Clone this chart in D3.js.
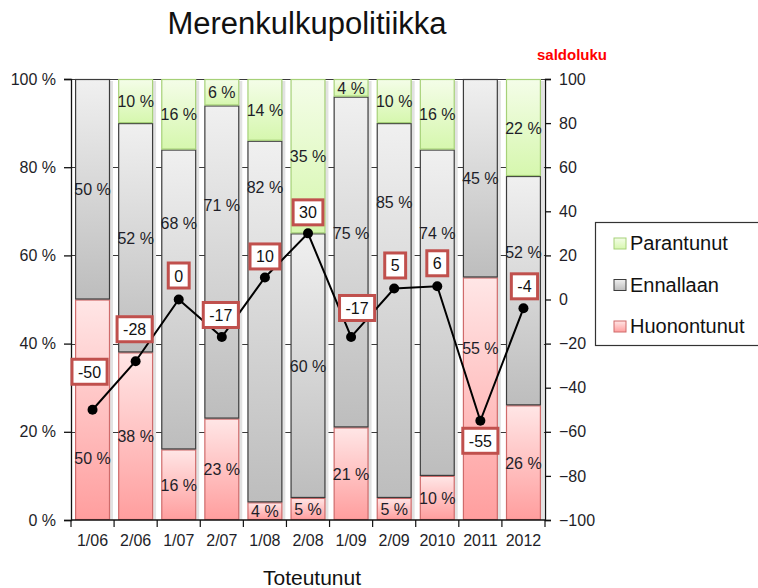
<!DOCTYPE html>
<html>
<head>
<meta charset="utf-8">
<script src="https://cdn.jsdelivr.net/npm/d3@7"></script>
<style>
  body { margin: 0; background: #fff; }
  svg { font-family: "Liberation Sans", Arial, sans-serif; }
</style>
</head>
<body>
<div class="chart"></div>
<script>
// data
const categories = ["1/06", "2/06", "1/07", "2/07", "1/08", "2/08", "1/09", "2/09", "2010", "2011", "2012"];
const parantunut = [0, 10, 16, 6, 14, 35, 4, 10, 16, 0, 22];
const ennallaan = [50, 52, 68, 71, 82, 60, 75, 85, 74, 45, 52];
const huonontunut = [50, 38, 16, 23, 4, 5, 21, 5, 10, 55, 26];
const saldoluku = [-50, -28, 0, -17, 10, 30, -17, 5, 6, -55, -4];
const leftTicks = [0, 20, 40, 60, 80, 100];
const rightTicks = [-100, -80, -60, -40, -20, 0, 20, 40, 60, 80, 100];

// label placement (percent on the left scale) where the original moved them
const ennallaanLabelAt = [75, 64, 67.3, 71.4, 75.5, 35, 65, 72, 65, 77.5, 60.7];
const huonontunutLabelAt = [14, 19, 8, 11.5, 2, 2.5, 10.5, 2.5, 5, 39, 13];
// saldo label box shift from the point, px
const saldoShift = [[-3, -38], [-1, -32], [0, -24], [-1, -22], [0, -21], [0, -21], [6, -29], [1, -23], [0, -23], [0, 20], [1, -22]];

const W = 758, H = 588;
const M = {top: 79, left: 71, right: 213, bottom: 68};

const svg = d3.select(".chart").append("svg")
  .attr("width", W).attr("height", H);

const x = d3.scaleBand()
  .domain(categories)
  .range([M.left, W - M.right])
  .paddingInner(0.19)
  .paddingOuter(0.095);

const y = d3.scaleLinear().domain([0, 100]).range([H - M.bottom, M.top]);
const y2 = d3.scaleLinear().domain([-100, 100]).range([H - M.bottom, M.top]);

// gradients
const defs = svg.append("defs");
const grads = [
  {id: "gPink", top: "#ffe6e6", bottom: "#ff9e9e"},
  {id: "gGrey", top: "#f0f0f0", bottom: "#bdbdbd"},
  {id: "gGreen", top: "#f4fde8", bottom: "#d6f7ae"}
];
grads.forEach(g => {
  const lg = defs.append("linearGradient").attr("id", g.id)
    .attr("x1", 0).attr("y1", 0).attr("x2", 0).attr("y2", 1);
  lg.append("stop").attr("offset", "0%").attr("stop-color", g.top);
  lg.append("stop").attr("offset", "100%").attr("stop-color", g.bottom);
});

// title
svg.append("text")
  .attr("x", 307).attr("y", 34)
  .attr("text-anchor", "middle")
  .style("font-size", "31px")
  .attr("fill", "#111")
  .text("Merenkulkupolitiikka");

// gridlines
svg.append("g")
  .selectAll("line")
  .data(leftTicks.slice(1))
  .join("line")
    .attr("x1", M.left).attr("x2", W - M.right)
    .attr("y1", d => Math.round(y(d)) + 0.5).attr("y2", d => Math.round(y(d)) + 0.5)
    .attr("stroke", "#3a3a3a").attr("stroke-width", 1);

// bar shadows
svg.append("g")
  .selectAll("rect")
  .data(categories)
  .join("rect")
    .attr("x", d => x(d) + 3)
    .attr("y", y(100) + 2)
    .attr("width", x.bandwidth())
    .attr("height", y(0) - y(100) - 2)
    .attr("fill", "#e2e2e2");

// stacked bars
const series = [
  {name: "Huonontunut", values: huonontunut, fill: "url(#gPink)", stroke: "#cf6b6b", labelAt: huonontunutLabelAt},
  {name: "Ennallaan", values: ennallaan, fill: "url(#gGrey)", stroke: "#3c3c3c", labelAt: ennallaanLabelAt},
  {name: "Parantunut", values: parantunut, fill: "url(#gGreen)", stroke: "#a6d178", labelAt: null}
];

const segs = [];
categories.forEach((c, i) => {
  let base = 0;
  series.forEach(s => {
    const v = s.values[i];
    segs.push({cat: c, s, v, y0: base, y1: base + v,
      lab: s.labelAt ? s.labelAt[i] : base + v / 2});
    base += v;
  });
});

svg.append("g")
  .selectAll("rect")
  .data(segs.filter(d => d.v > 0))
  .join("rect")
    .attr("x", d => x(d.cat) + 0.5)
    .attr("y", d => y(d.y1) + 0.5)
    .attr("width", x.bandwidth() - 1)
    .attr("height", d => y(d.y0) - y(d.y1) - 1)
    .attr("fill", d => d.s.fill)
    .attr("stroke", d => d.s.stroke)
    .attr("stroke-width", 1.2);

svg.append("g")
  .selectAll("text")
  .data(segs.filter(d => d.v > 0))
  .join("text")
    .attr("x", d => x(d.cat) + x.bandwidth() / 2)
    .attr("y", d => y(d.lab) + 6)
    .attr("text-anchor", "middle")
    .style("font-size", "16px")
    .attr("fill", "#1e1e28")
    .text(d => `${d.v} %`);

// axes
const xAxisG = svg.append("g").attr("transform", `translate(0,${y(0)})`);
xAxisG.append("line")
  .attr("x1", M.left).attr("x2", W - M.right)
  .attr("stroke", "#111").attr("stroke-width", 1.5);
xAxisG.selectAll("line.tk")
  .data(d3.range(categories.length + 1))
  .join("line").attr("class", "tk")
    .attr("x1", i => M.left + i * x.step()).attr("x2", i => M.left + i * x.step())
    .attr("y1", 0).attr("y2", 7)
    .attr("stroke", "#111").attr("stroke-width", 1.2);
xAxisG.selectAll("text")
  .data(categories)
  .join("text")
    .attr("x", d => x(d) + x.bandwidth() / 2)
    .attr("y", 26)
    .attr("text-anchor", "middle")
    .style("font-size", "16px")
    .attr("fill", "#1e1e28")
    .text(d => d);

const yAxisL = d3.axisLeft(y).tickValues(leftTicks).tickSize(7).tickPadding(8)
  .tickFormat(d => `${d} %`);
svg.append("g")
  .attr("transform", `translate(${M.left},0)`)
  .call(yAxisL)
  .call(g => g.selectAll("path, line").attr("stroke", "#111").attr("stroke-width", 1.3))
  .call(g => g.selectAll("text").style("font-size", "16px").attr("fill", "#1e1e28")
    .style("font-family", "Liberation Sans, Arial, sans-serif"));

const yAxisR = d3.axisRight(y2).tickValues(rightTicks).tickSize(6).tickPadding(8);
svg.append("g")
  .attr("transform", `translate(${W - M.right},0)`)
  .call(yAxisR)
  .call(g => g.selectAll("path, line").attr("stroke", "#111").attr("stroke-width", 1.3))
  .call(g => g.selectAll("text").style("font-size", "16px").attr("fill", "#1e1e28")
    .style("font-family", "Liberation Sans, Arial, sans-serif"));

svg.append("text")
  .attr("x", 572).attr("y", 60)
  .attr("text-anchor", "middle")
  .style("font-size", "15px").style("font-weight", "bold")
  .attr("fill", "#ff0000")
  .text("saldoluku");

// saldo line
const cx = i => x(categories[i]) + x.bandwidth() / 2;
svg.append("path")
  .datum(saldoluku)
  .attr("d", d3.line().x((d, i) => cx(i)).y(d => y2(d)))
  .attr("fill", "none")
  .attr("stroke", "#000")
  .attr("stroke-width", 2);

svg.append("g")
  .selectAll("circle")
  .data(saldoluku)
  .join("circle")
    .attr("cx", (d, i) => cx(i))
    .attr("cy", d => y2(d))
    .attr("r", 5)
    .attr("fill", "#000");

const labs = svg.append("g")
  .selectAll("g")
  .data(saldoluku)
  .join("g")
    .attr("transform", (d, i) => `translate(${cx(i) + saldoShift[i][0]},${y2(d) + saldoShift[i][1]})`);
labs.append("rect").attr("class", "bx");
labs.append("text")
  .attr("text-anchor", "middle")
  .attr("y", 6)
  .style("font-size", "16px")
  .attr("fill", "#111")
  .text(d => d);
labs.each(function () {
  const g = d3.select(this);
  const w = g.select("text").node().getComputedTextLength() + 12;
  g.select("rect.bx")
    .attr("x", -w / 2).attr("y", -12.5)
    .attr("width", w).attr("height", 25)
    .attr("fill", "#fff")
    .attr("stroke", "#c0504d")
    .attr("stroke-width", 3);
});

// x title
svg.append("text")
  .attr("x", 312).attr("y", 585)
  .attr("text-anchor", "middle")
  .style("font-size", "21px")
  .attr("fill", "#111")
  .text("Toteutunut");

// legend
const legend = svg.append("g");
legend.append("rect")
  .attr("x", 595.5).attr("y", 222.5)
  .attr("width", 180).attr("height", 123)
  .attr("fill", "#fff")
  .attr("stroke", "#333").attr("stroke-width", 1.2);
const legendItems = series.slice().reverse();
legendItems.forEach((s, i) => {
  const ly = 243 + i * 41.5;
  legend.append("rect")
    .attr("x", 614).attr("y", ly - 5)
    .attr("width", 12).attr("height", 11)
    .attr("fill", s.fill)
    .attr("stroke", s.stroke);
  legend.append("text")
    .attr("x", 630).attr("y", ly + 7)
    .style("font-size", "20px")
    .attr("fill", "#111")
    .text(s.name);
});
</script>
</body>
</html>
